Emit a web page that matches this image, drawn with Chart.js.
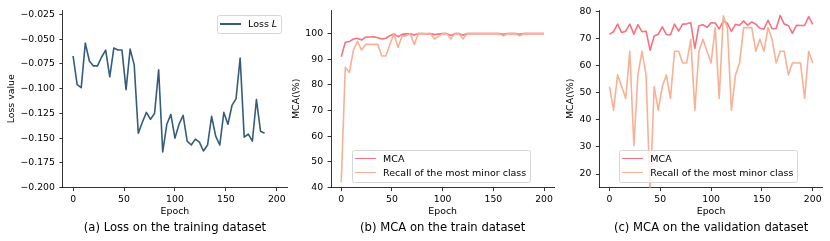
<!DOCTYPE html>
<html>
<head>
<meta charset="utf-8">
<script src="https://cdn.jsdelivr.net/npm/chart.js@4.4.1/dist/chart.umd.min.js"></script>
<style>
  body { margin: 0; background: #fff; width: 830px; height: 241px; overflow: hidden; position: relative; font-family: "DejaVu Sans", sans-serif; }
  canvas { position: absolute; top: 0; }
  .leg { position: absolute; border: 1px solid #d6d6d6; border-radius: 2.5px; background: rgba(255,255,255,0.8); font-size: 9.5px; color: #000; padding: 1px 4px 2px 2px; }
  .leg div { height: 14px; line-height: 14px; white-space: nowrap; display: flex; align-items: center; }
  .leg .h { display: inline-block; width: 21px; height: 1.6px; margin-right: 7px; }
</style>
</head>
<body>
<canvas id="lossChart"></canvas>
<canvas id="trainChart"></canvas>
<canvas id="valChart"></canvas>
<script>
// epochs (loss is logged every 4 epochs up to 188, accuracies up to 200)
const epochLoss = [0, 4, 8, 12, 16, 20, 24, 28, 32, 36, 40, 44, 48, 52, 56, 60, 64, 68, 72, 76, 80, 84, 88, 92,
  96, 100, 104, 108, 112, 116, 120, 124, 128, 132, 136, 140, 144, 148, 152, 156, 160, 164, 168, 172, 176, 180, 184, 188];
const lossValues = [-0.067, -0.096, -0.099, -0.054, -0.072, -0.077, -0.077, -0.068, -0.061, -0.088, -0.059, -0.061,
  -0.061, -0.101, -0.060, -0.076, -0.145, -0.134, -0.124, -0.131, -0.125, -0.081, -0.164, -0.136,
  -0.126, -0.150, -0.136, -0.127, -0.153, -0.157, -0.151, -0.154, -0.163, -0.157, -0.128, -0.148,
  -0.157, -0.124, -0.136, -0.117, -0.110, -0.069, -0.149, -0.146, -0.153, -0.111, -0.143, -0.145];

const epochs = [0, 4, 8, 12, 16, 20, 24, 28, 32, 36, 40, 44, 48, 52, 56, 60, 64, 68, 72, 76, 80, 84, 88, 92, 96,
  100, 104, 108, 112, 116, 120, 124, 128, 132, 136, 140, 144, 148, 152, 156, 160, 164, 168, 172, 176, 180, 184, 188, 192, 196, 200];

const trainMca = [91.0, 96.6, 96.9, 97.9, 98.2, 97.5, 98.6, 98.7, 98.8, 98.4, 97.9, 98.2, 99.2, 99.9, 98.8, 99.7, 99.9,
  99.9, 99.5, 100, 100, 99.9, 100, 99.6, 99.8, 100, 100, 99.3, 100, 100, 99.4, 100, 100, 100, 100, 100, 100,
  100, 100, 100, 99.7, 100, 100, 100, 99.7, 100, 100, 100, 100, 100, 100];
const trainRecall = [42.1, 86.9, 84.8, 93.6, 97.0, 93.6, 95.8, 95.8, 95.8, 95.8, 91.3, 91.3, 95.8, 100, 94.6, 99.1, 99.1,
  100, 95.8, 100, 100, 100, 100, 97.9, 98.9, 100, 100, 97.9, 100, 100, 97.9, 100, 100, 100, 100, 100, 100,
  100, 100, 100, 99.1, 100, 100, 100, 99.1, 100, 100, 100, 100, 100, 100];

const valMca = [71.4, 72.4, 75.2, 72.1, 72.6, 75.2, 71.5, 75.0, 72.4, 72.6, 65.6, 70.8, 71.5, 74.2, 71.3, 71.3, 75.2,
  72.6, 75.2, 75.3, 75.7, 66.3, 74.6, 75.0, 74.0, 75.7, 75.6, 73.4, 76.4, 75.5, 72.5, 75.1, 74.8, 76.4, 74.8,
  76.0, 75.2, 73.7, 73.4, 76.6, 73.5, 73.6, 78.4, 75.2, 74.7, 71.8, 74.8, 74.7, 74.7, 78.0, 75.1];
const valRecall = [52.2, 43.5, 56.5, 52.2, 47.8, 65.2, 30.4, 56.5, 65.2, 56.5, 13.0, 52.2, 43.5, 52.2, 56.5, 47.8, 65.2,
  65.2, 60.9, 60.9, 69.6, 43.5, 65.2, 69.6, 65.2, 60.9, 73.9, 47.8, 78.3, 73.9, 43.5, 56.5, 60.9, 73.9, 73.9,
  73.9, 65.2, 69.6, 65.2, 73.9, 69.6, 60.9, 65.2, 65.2, 56.5, 60.9, 60.9, 60.9, 47.8, 65.2, 60.9];

const epochTicks = [0, 50, 100, 150, 200];
const lossTicks = [-0.2, -0.175, -0.15, -0.125, -0.1, -0.075, -0.05, -0.025];
const trainTicks = [40, 50, 60, 70, 80, 90, 100];
const valTicks = [20, 30, 40, 50, 60, 70, 80];

const captions = ['(a) Loss on the training dataset', '(b) MCA on the train dataset', '(c) MCA on the validation dataset'];

const BLUE = '#355C7D', PINK = '#F67280', PEACH = '#F8B195';

Chart.defaults.font.family = '"DejaVu Sans", sans-serif';
Chart.defaults.color = '#000';

function pts(xs, ys) {
  return xs.map((x, i) => ({ x: x, y: ys[i] }));
}

function axisLook() {
  return {
    border: { display: true, color: '#000', width: 0.8 },
    grid: { display: true, drawOnChartArea: false, drawTicks: true, tickLength: 3.5, tickColor: '#000', tickWidth: 0.8 }
  };
}

function makeChart(id, o) {
  const canvas = document.getElementById(id);
  canvas.style.left = o.left + 'px';
  canvas.width = o.width;
  canvas.height = 241;

  const n = o.series.length;
  const chart = new Chart(canvas, {
    type: 'line',
    data: {
      datasets: o.series.map((s, i) => ({
        label: s.label,
        data: pts(s.x, s.y),
        borderColor: s.color,
        borderWidth: 1.6,
        borderJoinStyle: 'round',
        pointRadius: 0,
        tension: 0,
        fill: false,
        order: n - i
      }))
    },
    options: {
      responsive: false,
      animation: false,
      events: [],
      layout: { padding: { left: 0, top: 10, right: o.padRight, bottom: 0 } },
      plugins: {
        legend: { display: false },
        tooltip: { enabled: false },
        title: {
          display: true, text: o.caption, position: 'bottom', fullSize: false,
          font: { size: 11.6, weight: 'normal' }, color: '#000', padding: { top: 0, bottom: 6.5 }
        }
      },
      scales: {
        x: Object.assign(axisLook(), {
          type: 'linear', min: -10, max: 210,
          title: { display: true, text: 'Epoch', font: { size: 9.4 }, padding: { top: 0, bottom: 3 } },
          ticks: { font: { size: 9.3 }, padding: 3, maxRotation: 0, autoSkip: false },
          afterBuildTicks: s => { s.ticks = epochTicks.map(v => ({ value: v })); },
          afterFit: s => { s.height = 33; s.paddingLeft = 0; s.paddingRight = 0; }
        }),
        y: Object.assign(axisLook(), {
          type: 'linear', min: o.yMin, max: o.yMax,
          title: { display: true, text: o.yTitle, font: { size: 9.4 }, padding: { top: o.yTitlePad, bottom: 0 } },
          ticks: { font: { size: 9.3 }, padding: 4.5, autoSkip: false, callback: o.tickFmt },
          afterBuildTicks: s => { s.ticks = o.yTicks.map(v => ({ value: v })); },
          afterFit: s => { s.width = o.yWidth; s.paddingTop = 0; s.paddingBottom = 0; }
        })
      }
    }
  });

  // boxed legend on top of the plot, built from the datasets
  const leg = document.createElement('div');
  leg.className = 'leg';
  chart.data.datasets.forEach((ds, i) => {
    const row = document.createElement('div');
    const h = document.createElement('span');
    h.className = 'h';
    h.style.background = ds.borderColor;
    const t = document.createElement('span');
    t.innerHTML = o.legendHtml ? o.legendHtml[i] : ds.label;
    row.appendChild(h);
    row.appendChild(t);
    leg.appendChild(row);
  });
  document.body.appendChild(leg);
  const ca = chart.chartArea;
  if (o.legendAt === 'topright') {
    leg.style.left = (o.left + ca.right - 5 - leg.offsetWidth) + 'px';
    leg.style.top = (ca.top + 5) + 'px';
  } else {
    leg.style.left = (o.left + ca.left + o.legendDx) + 'px';
    leg.style.top = (ca.bottom - 5 - leg.offsetHeight) + 'px';
  }
  return chart;
}

makeChart('lossChart', {
  left: 0, width: 300, padRight: 13, yWidth: 62.9, yTitlePad: 5.7,
  yMin: -0.2, yMax: -0.0205, yTicks: lossTicks, yTitle: 'Loss value',
  tickFmt: v => v.toFixed(3).replace('-', '\u2212'),
  caption: captions[0],
  series: [{ label: 'Loss L', x: epochLoss, y: lossValues, color: BLUE }],
  legendHtml: ['Loss <i>L</i>'],
  legendAt: 'topright'
});

makeChart('trainChart', {
  left: 285, width: 285, padRight: 15.8, yWidth: 46.1, yTitlePad: 6.1,
  yMin: 40, yMax: 109.2, yTicks: trainTicks, yTitle: 'MCA(\\%)',
  tickFmt: v => String(v),
  caption: captions[1],
  series: [
    { label: 'MCA', x: epochs, y: trainMca, color: PINK },
    { label: 'Recall of the most minor class', x: epochs, y: trainRecall, color: PEACH }
  ],
  legendDx: 21
});

makeChart('valChart', {
  left: 555, width: 275, padRight: 7.1, yWidth: 44.3, yTitlePad: 10.1,
  yMin: 15, yMax: 80.4, yTicks: valTicks, yTitle: 'MCA(\\%)',
  tickFmt: v => String(v),
  caption: captions[2],
  series: [
    { label: 'MCA', x: epochs, y: valMca, color: PINK },
    { label: 'Recall of the most minor class', x: epochs, y: valRecall, color: PEACH }
  ],
  legendDx: 20
});
</script>
</body>
</html>
